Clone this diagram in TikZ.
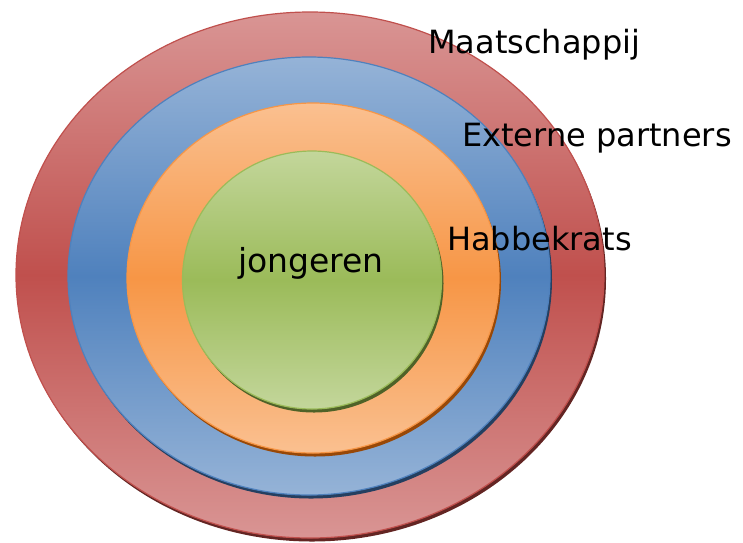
\documentclass[tikz,border=0pt]{standalone}
\usepackage{fontspec}
\setmainfont{DejaVu Sans}
\definecolor{redlt}{HTML}{D99594}
\definecolor{redmd}{HTML}{C0504D}
\definecolor{redsh}{HTML}{632523}
\definecolor{blult}{HTML}{95B3D7}
\definecolor{blumd}{HTML}{4F81BD}
\definecolor{blush}{HTML}{243F60}
\definecolor{orglt}{HTML}{FAC090}
\definecolor{orgmd}{HTML}{F79646}
\definecolor{orgsh}{HTML}{984807}
\definecolor{grnlt}{HTML}{C3D69B}
\definecolor{grnmd}{HTML}{9BBB59}
\definecolor{grnsh}{HTML}{4F6228}
\begin{document}
\begin{tikzpicture}[x=1pt,y=-1pt,
  ring/.style 2 args={draw=#2, line width=1.2pt, top color=#1, bottom color=#1, middle color=#2},
  lbl/.style={font=\fontsize{32}{36}\selectfont, anchor=base west, inner sep=0pt, text=black}]
\useasboundingbox (0,0) rectangle (743,542);
% red
\fill[redsh] (312,278.5) ellipse [x radius=294, y radius=263];
\path[ring={redlt}{redmd}] (310,275) ellipse [x radius=294, y radius=263];
% blue
\fill[blush] (311,279.5) ellipse [x radius=241, y radius=219];
\path[ring={blult}{blumd}] (309,276) ellipse [x radius=241, y radius=219];
% orange
\fill[orgsh] (315,281.5) ellipse [x radius=186, y radius=175];
\path[ring={orglt}{orgmd}] (313,278) ellipse [x radius=186, y radius=175];
% green
\fill[grnsh] (314,283.5) ellipse [x radius=129.5, y radius=129];
\path[ring={grnlt}{grnmd}] (312,280) ellipse [x radius=129.5, y radius=129];
% labels
\node[lbl] (maat) at (428,53) {Maatschappij};
\node[lbl] (ext) at (462,146) {Externe partners};
\node[lbl] (hab) at (447,250) {Habbekrats};
\node[lbl, font=\fontsize{33}{36}\selectfont] (jong) at (238,272) {jongeren};
\end{tikzpicture}
\end{document}
